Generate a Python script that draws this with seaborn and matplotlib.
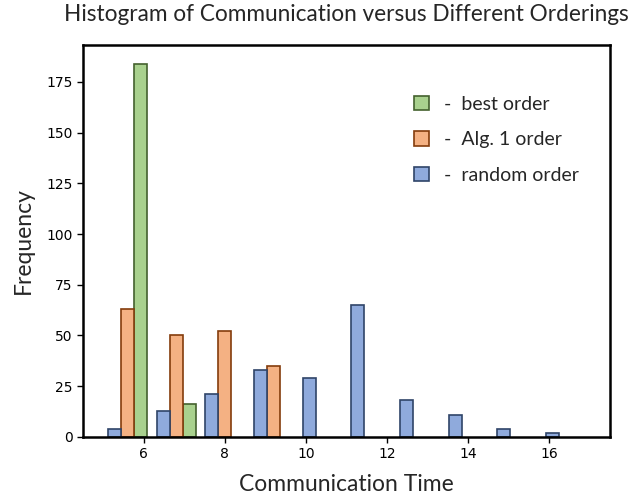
import numpy as np
import pandas as pd
import seaborn as sns
import matplotlib.pyplot as plt
from matplotlib.patches import Patch

# bin edges and counts per ordering
bin_edges = [5.0, 6.2, 7.4, 8.6, 9.8, 11.0, 12.2, 13.4, 14.6, 15.8, 17.0]
random_counts = [4, 13, 21, 33, 29, 65, 18, 11, 4, 2]
alg1_counts = [63, 50, 52, 35, 0, 0, 0, 0, 0, 0]
best_counts = [184, 16, 0, 0, 0, 0, 0, 0, 0, 0]

orders = ["random order", "Alg. 1 order", "best order"]
fills = {"random order": "#8FAADC", "Alg. 1 order": "#F4B183", "best order": "#A9D18E"}
edges = {"random order": "#2F4468", "Alg. 1 order": "#843C0C", "best order": "#44612E"}

centers = (np.array(bin_edges[:-1]) + np.array(bin_edges[1:])) / 2
rows = []
for name, counts in zip(orders, [random_counts, alg1_counts, best_counts]):
    for c, n in zip(centers, counts):
        rows.append({"time": c, "count": n, "order": name})
df = pd.DataFrame(rows)

sns.set_style("ticks")
plt.rcParams["font.family"] = ["DejaVu Sans"]

fig, ax = plt.subplots(figsize=(6.34, 5.01), dpi=100)
sns.histplot(data=df, x="time", weights="count", hue="order", hue_order=orders,
             bins=bin_edges, multiple="dodge", shrink=0.8, palette=fills,
             alpha=1, linewidth=1.2, legend=False, ax=ax)

# per-series edge colour, hide empty bins
for p in ax.patches:
    fc = p.get_facecolor()
    for name in orders:
        if np.allclose(fc[:3], plt.matplotlib.colors.to_rgb(fills[name]), atol=0.01):
            p.set_edgecolor(edges[name])
    if p.get_height() == 0:
        p.set_visible(False)

ax.set_xlim(4.5, 17.5)
ax.set_ylim(0, 193.2)
ax.set_xticks([6, 8, 10, 12, 14, 16])
ax.set_yticks([0, 25, 50, 75, 100, 125, 150, 175])
ax.tick_params(labelsize=10, colors="black", width=1, length=4)

for s in ax.spines.values():
    s.set_visible(True)
    s.set_linewidth(1.8)
    s.set_color("black")

ax.set_title("Histogram of Communication versus Different Orderings", pad=17,
             family="Lato", fontsize=16.3)
ax.set_xlabel("Communication Time", labelpad=9, family="Lato", fontsize=16.5)
ax.set_ylabel("Frequency", labelpad=9, family="Lato", fontsize=16.5)

handles = [Patch(facecolor=fills[n], edgecolor=edges[n], linewidth=1.2) for n in orders[::-1]]
labels = ["-  " + n for n in orders[::-1]]
ax.legend(handles, labels, loc="upper right", frameon=False, bbox_to_anchor=(0.975, 0.915),
          prop={"family": "Lato", "size": 14}, labelspacing=0.95, handlelength=0.75,
          handleheight=0.75, handletextpad=0.8)

plt.subplots_adjust(left=0.131, right=0.962, top=0.91, bottom=0.128)
plt.savefig("out.png", dpi=100)
